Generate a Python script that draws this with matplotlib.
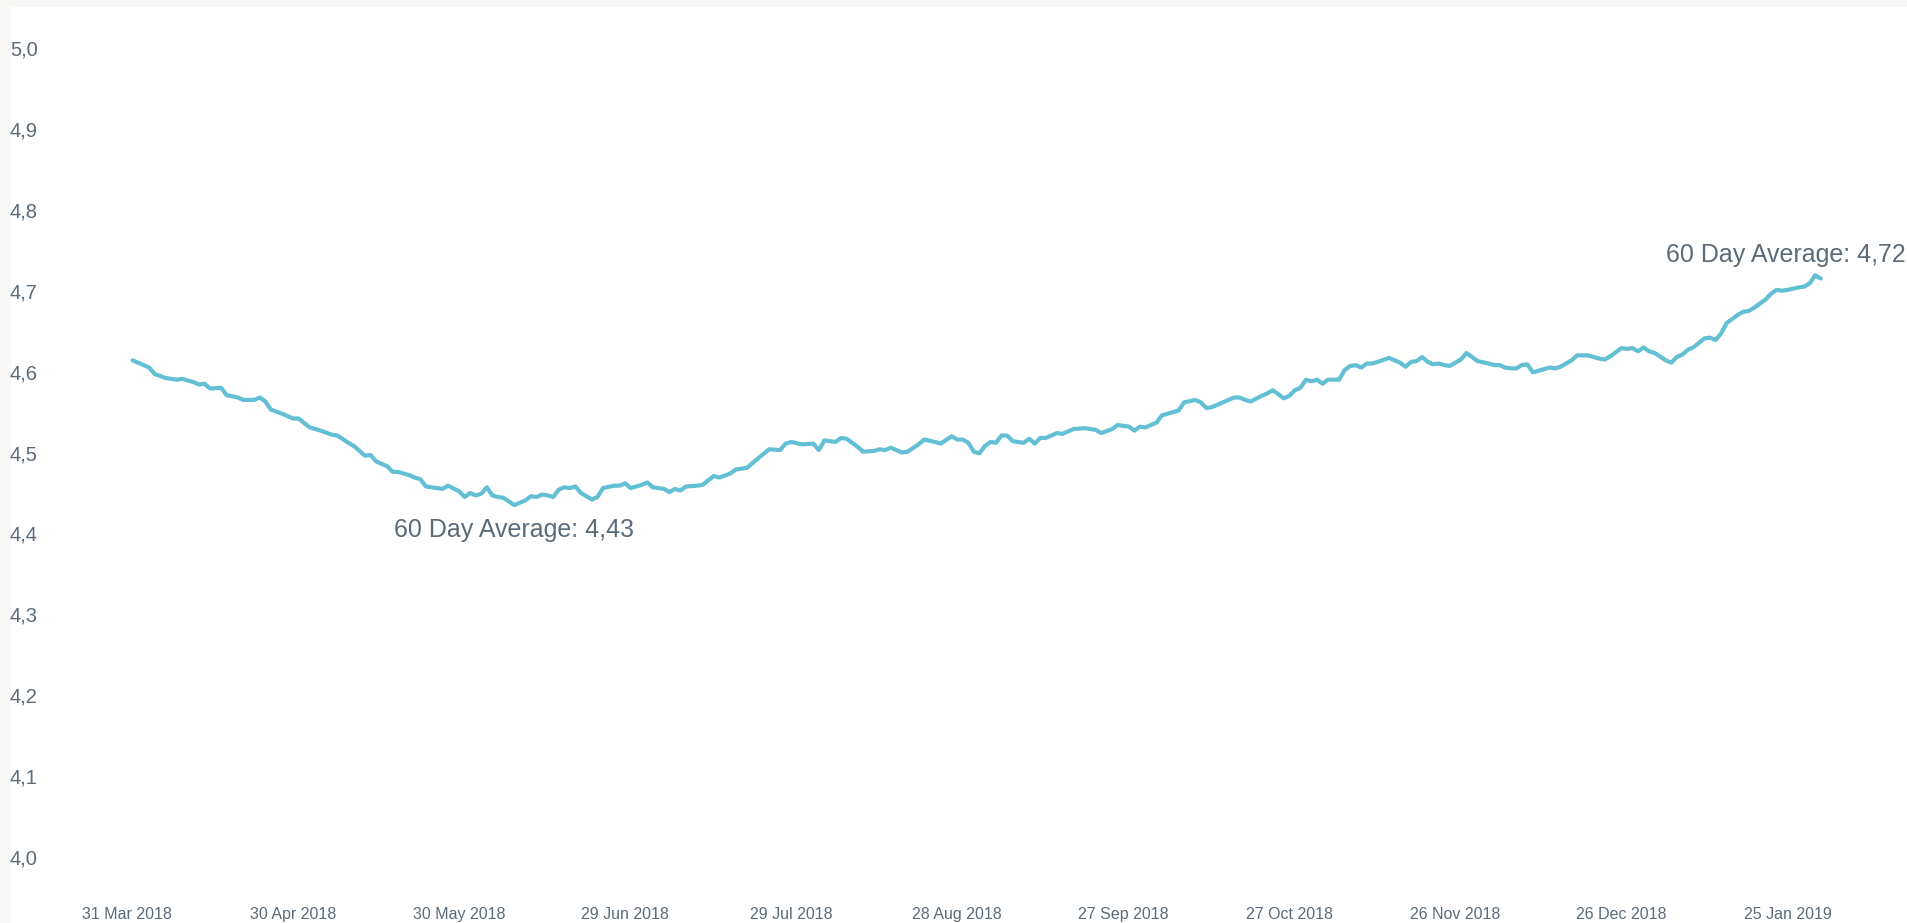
import numpy as np
import pandas as pd
import matplotlib
matplotlib.use('Agg')
import matplotlib.pyplot as plt
import matplotlib.dates as mdates
from matplotlib.patches import Rectangle

# 60 day rolling average
start = pd.Timestamp('2018-03-31')
day_offset = [1, 4, 5, 7, 9, 10, 12, 13, 14, 15, 17, 18, 20, 21, 23, 24, 25, 26, 28, 30,
              31, 33, 35, 37, 38, 40, 41, 43, 44, 45, 47, 48, 49, 51, 52, 53, 54, 56, 57, 58,
              60, 61, 62, 63, 64, 65, 66, 67, 68, 70, 71, 72, 73, 74, 75, 76, 77, 78, 79, 80,
              81, 82, 84, 85, 86, 88, 89, 90, 91, 93, 94, 95, 97, 98, 99, 100, 101, 103, 104, 106,
              107, 109, 110, 112, 113, 116, 118, 119, 120, 122, 124, 125, 126, 128, 129, 130, 132, 133, 135, 136,
              137, 138, 139, 140, 141, 143, 144, 146, 147, 149, 150, 151, 152, 153, 154, 155, 156, 157, 158, 159,
              160, 162, 163, 164, 165, 166, 168, 169, 171, 173, 175, 176, 178, 179, 181, 182, 183, 184, 186, 187,
              189, 190, 191, 193, 194, 195, 196, 198, 200, 201, 202, 203, 205, 206, 207, 208, 209, 210, 211, 212,
              213, 214, 215, 216, 217, 219, 220, 221, 222, 223, 224, 225, 226, 228, 230, 231, 232, 233, 234, 235,
              236, 237, 238, 239, 241, 242, 243, 244, 246, 247, 248, 249, 250, 251, 252, 253, 254, 256, 257, 258,
              259, 261, 262, 264, 266, 267, 268, 270, 271, 272, 273, 274, 275, 276, 278, 279, 280, 281, 282, 283,
              285, 286, 287, 288, 289, 291, 292, 293, 294, 296, 297, 298, 299, 300, 302, 303, 304, 305, 306]
avg_60d = [4.614, 4.605, 4.597, 4.592, 4.590, 4.591, 4.587, 4.584, 4.585, 4.579, 4.580, 4.571, 4.568, 4.565, 4.565, 4.568, 4.563, 4.553, 4.548, 4.542,
           4.542, 4.531, 4.527, 4.522, 4.521, 4.512, 4.508, 4.496, 4.497, 4.489, 4.483, 4.476, 4.476, 4.472, 4.469, 4.467, 4.458, 4.456, 4.455, 4.459,
           4.452, 4.445, 4.450, 4.447, 4.449, 4.457, 4.447, 4.445, 4.444, 4.435, 4.438, 4.441, 4.446, 4.445, 4.448, 4.447, 4.445, 4.454, 4.457, 4.456,
           4.458, 4.450, 4.442, 4.445, 4.456, 4.459, 4.459, 4.462, 4.456, 4.460, 4.463, 4.457, 4.455, 4.451, 4.455, 4.453, 4.458, 4.459, 4.460, 4.471,
           4.469, 4.474, 4.479, 4.481, 4.487, 4.504, 4.503, 4.511, 4.513, 4.510, 4.511, 4.503, 4.515, 4.513, 4.518, 4.517, 4.507, 4.501, 4.502, 4.504,
           4.503, 4.506, 4.503, 4.500, 4.501, 4.510, 4.516, 4.513, 4.511, 4.520, 4.516, 4.516, 4.512, 4.501, 4.499, 4.508, 4.513, 4.512, 4.521, 4.521,
           4.514, 4.512, 4.517, 4.511, 4.518, 4.518, 4.524, 4.523, 4.529, 4.530, 4.528, 4.524, 4.529, 4.534, 4.532, 4.527, 4.532, 4.531, 4.537, 4.546,
           4.550, 4.552, 4.562, 4.565, 4.562, 4.555, 4.556, 4.562, 4.568, 4.568, 4.565, 4.563, 4.570, 4.573, 4.577, 4.572, 4.567, 4.570, 4.577, 4.580,
           4.590, 4.588, 4.590, 4.585, 4.590, 4.590, 4.602, 4.607, 4.608, 4.605, 4.610, 4.610, 4.612, 4.617, 4.611, 4.606, 4.612, 4.613, 4.618, 4.612,
           4.609, 4.610, 4.608, 4.607, 4.615, 4.623, 4.618, 4.613, 4.610, 4.608, 4.608, 4.605, 4.604, 4.604, 4.608, 4.609, 4.599, 4.603, 4.605, 4.604,
           4.606, 4.614, 4.620, 4.620, 4.616, 4.615, 4.619, 4.629, 4.628, 4.629, 4.625, 4.630, 4.625, 4.623, 4.614, 4.611, 4.618, 4.621, 4.627, 4.630,
           4.641, 4.642, 4.639, 4.647, 4.660, 4.670, 4.674, 4.675, 4.679, 4.689, 4.696, 4.701, 4.700, 4.701, 4.704, 4.705, 4.709, 4.719, 4.715]

tick_dates = ['2018-03-31', '2018-04-30', '2018-05-30', '2018-06-29', '2018-07-29', '2018-08-28',
              '2018-09-27', '2018-10-27', '2018-11-26', '2018-12-26', '2019-01-25']
y_ticks = [4.0, 4.1, 4.2, 4.3, 4.4, 4.5, 4.6, 4.7, 4.8, 4.9, 5.0]
low_label = '60 Day Average: 4,43'
high_label = '60 Day Average: 4,72'

dates = start + pd.to_timedelta(day_offset, unit='D')
vals = np.array(avg_60d)

plt.rcParams['font.family'] = ['Liberation Sans', 'DejaVu Sans']
txt_col = '#5b6b79'
line_col = '#62bfd4'

W, H = 1908, 923
fig = plt.figure(figsize=(W / 100, H / 100), dpi=100, facecolor='#f7f7f5')
# white panel behind the chart
fig.patches.append(Rectangle((11 / W, 0), 1, 1 - 7 / H, transform=fig.transFigure,
                             facecolor='white', edgecolor='none', zorder=-10))

ax_l, ax_r = 45, 1900
ax_t, ax_b = 31.8, 873.2
ax = fig.add_axes([ax_l / W, 1 - ax_b / H, (ax_r - ax_l) / W, (ax_b - ax_t) / H])
ax.set_zorder(5)
ax.patch.set_alpha(0)

ax.plot(dates, vals, color=line_col, lw=3.0, solid_joinstyle='round', solid_capstyle='round')

x0 = mdates.date2num(start)
px_per_day = 5.535
ax.set_xlim(x0 + (ax_l - 127) / px_per_day, x0 + (ax_r - 127) / px_per_day)
ax.set_ylim(3.98, 5.02)

for s in ax.spines.values():
    s.set_visible(False)

ax.set_yticks(y_ticks)
ax.set_yticklabels([f'{v:.1f}'.replace('.', ',') for v in y_ticks])
ax.tick_params(axis='y', length=0, pad=(ax_l - 10) * 0.72, labelsize=14.5, labelcolor=txt_col)
for lab in ax.get_yticklabels():
    lab.set_ha('left')

tk = pd.to_datetime(tick_dates)
ax.set_xticks(tk)
ax.set_xticklabels([d.strftime('%d %b %Y') for d in tk])
ax.tick_params(axis='x', length=0, pad=24, labelsize=11.5, labelcolor=txt_col)

# annotations at the low and the high of the series
i_lo = int(np.argmin(vals))
i_hi = int(np.argmax(vals))
ax.annotate(low_label, xy=(dates[i_lo], vals[i_lo]), xytext=(0, -23), textcoords='offset points',
            ha='center', va='baseline', fontsize=18, color=txt_col, annotation_clip=False)
ax.annotate(high_label, xy=(dates[i_hi], vals[i_hi]), xytext=(65, 9.5), textcoords='offset points',
            ha='right', va='baseline', fontsize=18, color=txt_col, annotation_clip=False)

fig.savefig('out.png', dpi=100, facecolor=fig.get_facecolor())
